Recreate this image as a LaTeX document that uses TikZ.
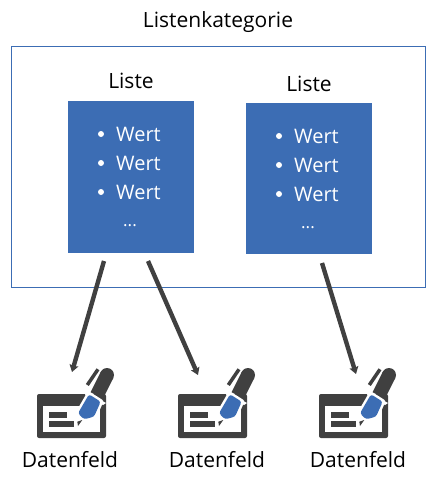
\documentclass[tikz,border=0pt]{standalone}
\usepackage{fontspec}
\setmainfont{Open Sans}
\usetikzlibrary{arrows.meta}
\definecolor{blu}{HTML}{3C6DB4}
\definecolor{drk}{HTML}{404040}
\tikzset{
  lbl/.style={font=\fontsize{21}{24}\selectfont,text=black,inner sep=0pt,anchor=center},
  val/.style={font=\fontsize{20}{24}\selectfont,text=white,inner sep=0pt,anchor=west},
  more/.style={font=\fontsize{17}{20}\selectfont,text=white,inner sep=0pt},
  dot/.style={circle,fill=white,inner sep=0pt,minimum size=6pt},
  listbox/.style={fill=blu,draw=none,inner sep=0pt,minimum width=126pt,anchor=north west},
  conn/.style={draw=drk,line width=4.4pt,-{Stealth[length=7pt,width=9pt,inset=1pt]}},
  pics/fieldicon/.style={code={
    \fill[drk,rounded corners=2pt] (0,0) rectangle (69,44);
    \fill[white] (6,12) rectangle (63,38);
    \fill[drk] (12,18) rectangle (30,23.5);
    \fill[drk] (12,27) rectangle (37,33);
    % halo
    \draw[white,line width=5pt,line join=round] (52,0.3) -- (63.7,7.7) -- (57,22.7) -- (47,25.3) -- (41,19.3) -- cycle;
    % pen
    \draw[drk,line width=14pt] (59.85,1.35) -- (70,-19);
    \fill[drk] (70,-19) circle[radius=7pt];
    \fill[white] (49,-2) -- (69,9) -- (66,11) -- (48,1) -- cycle;
    \fill[blu,rounded corners=2.5pt] (52,0.3) -- (63.7,7.7) -- (57,22.7) -- (47,25.3) -- (41,19.3) -- cycle;
    \fill[drk] (40.3,27.7) -- (45.3,26) -- (41,32) -- cycle;
    \draw[drk,line width=3.5pt] (50.3,-9) -- (61,-24.7);
  }}
}
\begin{document}
\begin{tikzpicture}[x=1pt,y=-1pt]
\useasboundingbox (0,0) rectangle (439,477);
\node[lbl] (title) at (218,22) {Listenkategorie};
\node[draw=blu,line width=0.8pt,inner sep=0pt,minimum width=414pt,minimum height=241pt,anchor=north west] (frame) at (11,46) {};
\node[lbl] (l1) at (131,81) {Liste};
\node[lbl] (l2) at (309,84) {Liste};
\node[listbox,minimum height=152pt] (b1) at (68,101) {};
\node[listbox,minimum height=151pt] (b2) at (246,103) {};
\foreach \n/\bx/\ty in {a/101/134,b/101/163,c/101/192,d/279/136,e/279/165,f/279/194}{
  \node[dot] (dot\n) at (\bx,\ty) {};
  \node[val] (val\n) at (\bx+15,\ty) {Wert};
}
\node[more] (m1) at (130,226) {...};
\node[more] (m2) at (308,228) {...};
\coordinate (s1) at (104,261);
\coordinate (e1) at (72,372);
\coordinate (s2) at (148,261);
\coordinate (e2) at (198,375);
\coordinate (s3) at (322,263);
\coordinate (e3) at (356,374);
\draw[conn] (s1) -- (e1);
\draw[conn] (s2) -- (e2);
\draw[conn] (s3) -- (e3);
\pic at (37,394) {fieldicon};
\pic at (178,394) {fieldicon};
\pic at (319,394) {fieldicon};
\node[lbl] (d1) at (70,460) {Datenfeld};
\node[lbl] (d2) at (217,460) {Datenfeld};
\node[lbl] (d3) at (358,460) {Datenfeld};
\end{tikzpicture}
\end{document}
